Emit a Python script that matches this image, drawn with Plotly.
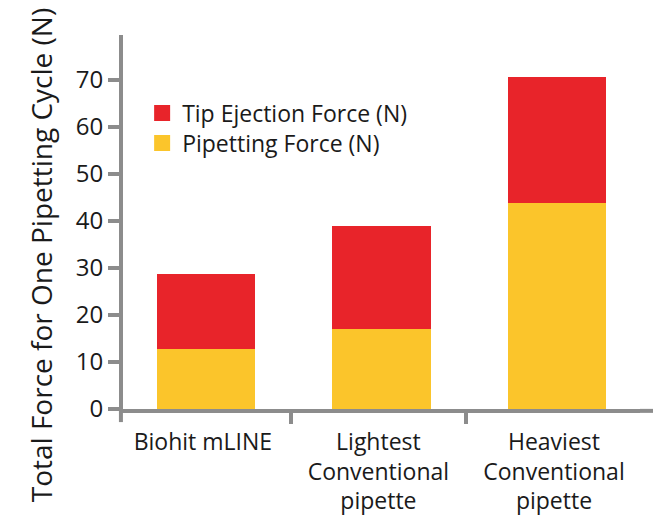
import plotly.graph_objects as go

categories = ["Biohit mLINE", "Lightest<br>Conventional<br>pipette", "Heaviest<br>Conventional<br>pipette"]
pipetting_force = [12.7, 17.1, 43.7]
tip_ejection_force = [16.0, 21.8, 26.9]
y_ticks = [0, 10, 20, 30, 40, 50, 60, 70]

RED = "#E8242A"
YEL = "#FBC52B"
GRAY = "#8C8C8C"
FONT = "Open Sans"

fig = go.Figure()
fig.add_trace(go.Bar(x=categories, y=pipetting_force, name="Pipetting Force (N)",
                     marker=dict(color=YEL, line=dict(width=0)), width=0.56, offset=-0.262,
                     showlegend=False))
fig.add_trace(go.Bar(x=categories, y=tip_ejection_force, name="Tip Ejection Force (N)",
                     marker=dict(color=RED, line=dict(width=0)), width=0.56, offset=-0.262,
                     showlegend=False))
# legend entries with larger square symbols
fig.add_trace(go.Scatter(x=[None], y=[None], mode="markers", name="Tip Ejection Force (N)",
                         marker=dict(symbol="square", size=18, color=RED), legend="legend"))
fig.add_trace(go.Scatter(x=[None], y=[None], mode="markers", name="Pipetting Force (N)",
                         marker=dict(symbol="square", size=18, color=YEL), legend="legend2"))

leg_common = dict(xanchor="left", yanchor="middle", font=dict(size=23), itemwidth=30,
                  bgcolor="rgba(0,0,0,0)")

fig.update_layout(
    width=653, height=523,
    margin=dict(l=123, r=13, t=35, b=114, autoexpand=False),
    barmode="stack",
    plot_bgcolor="white", paper_bgcolor="white",
    font=dict(family=FONT, color="#1a1a1a", size=23),
    showlegend=True,
    legend=dict(x=0.037, y=0.7914, **leg_common),
    legend2=dict(x=0.037, y=0.7112, **leg_common),
    xaxis=dict(type="category", range=[-0.4548, 2.49], showline=True, linecolor=GRAY, linewidth=4,
               ticks="outside", tickson="boundaries", ticklen=11, tickwidth=4, tickcolor=GRAY,
               showgrid=False, zeroline=False, tickfont=dict(size=23), ticklabelstandoff=9,
               automargin=False),
    yaxis=dict(range=[0, 79.5], tickvals=y_ticks, showline=True, linecolor=GRAY, linewidth=4,
               ticks="outside", ticklen=11, tickwidth=4, tickcolor=GRAY,
               showgrid=False, zeroline=False, tickfont=dict(size=24), automargin=False),
)

fig.add_annotation(text="Total Force for One Pipetting Cycle (N)", textangle=-90,
                   xref="paper", yref="paper", x=-0.158, y=0.412, xanchor="center", yanchor="middle",
                   showarrow=False, font=dict(size=28, family=FONT, color="#1a1a1a"))
# axis line extensions
fig.add_shape(type="line", xref="paper", yref="paper", x0=1, x1=1.03, y0=-0.005, y1=-0.005,
              line=dict(color=GRAY, width=4))
fig.add_shape(type="line", xref="paper", yref="paper", x0=-0.004, x1=-0.004, y0=0, y1=-0.035,
              line=dict(color=GRAY, width=4))

fig.write_html("out.html", config={"displayModeBar": False},
               post_script="document.body.style.margin='0px';")
